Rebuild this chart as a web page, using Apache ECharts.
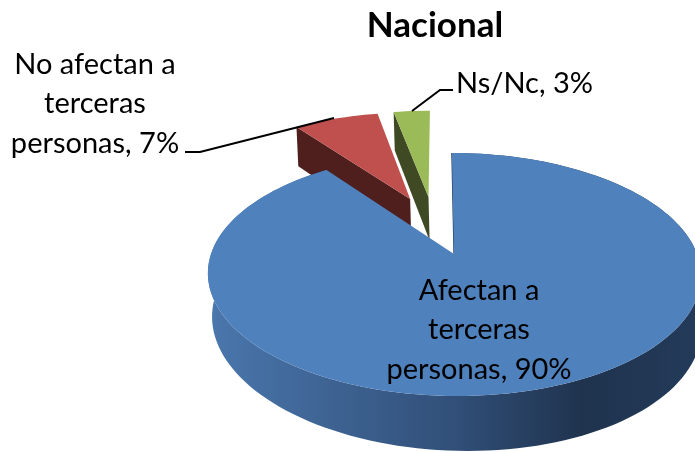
<!DOCTYPE html>
<html>
<head>
<meta charset="utf-8">
<style>html,body{margin:0;padding:0;background:#fff;overflow:hidden}#c{width:695px;height:452px}</style>
<script src="https://cdn.jsdelivr.net/npm/echarts@6/dist/echarts.min.js"></script>
</head>
<body>
<div id="c"></div>
<script>
const titleText = 'Nacional';
const categories = ['Afectan a terceras personas', 'No afectan a terceras personas', 'Ns/Nc'];
const values = [90, 7, 3];
const labelTexts = ['Afectan a\nterceras\npersonas, 90%', 'No afectan a\nterceras\npersonas, 7%', 'Ns/Nc, 3%'];

const topColors = ['#4f81bd', '#c0504d', '#9bbb59'];
const sideColors = ['#24395a', '#4f1f1e', '#3f4a25'];
const explode = 0.27;
const FONT = 'Lato, Carlito, "Open Sans", sans-serif';

// perspective camera for the tilted disc (u = right, v = away from viewer, h = down)
function project(u, v, h) {
  const w = 1 + 0.1687 * v + 0.008 * h;
  const lean = h * (1 + 8 * Math.max(0, -v));
  return [454 + (243 * u - 2.5 * v + lean) / w, (254 - 75.2 * v + 49.3 * h) / w];
}

const total = values.reduce((a, b) => a + b, 0);
let acc = 0;
const rows = values.map((v, i) => {
  const a0 = acc / total * Math.PI * 2;
  acc += v;
  return [i, a0, acc / total * Math.PI * 2];
});
// the largest slice sits at the origin of the camera; the others shift with the explosion
const bis0 = (rows[0][1] + rows[0][2]) / 2;
const O = [-explode * Math.sin(bis0), -explode * Math.cos(bis0)];

function renderItem(params, api) {
  const i = api.value(0), a0 = api.value(1), a1 = api.value(2);
  const mid = (a0 + a1) / 2;
  const cu = O[0] + explode * Math.sin(mid);
  const cv = O[1] + explode * Math.cos(mid);
  const arc = h => {
    const pts = [];
    const n = Math.max(4, Math.ceil((a1 - a0) / (Math.PI / 90)));
    for (let k = 0; k <= n; k++) {
      const a = a0 + (a1 - a0) * k / n;
      pts.push(project(cu + Math.sin(a), cv + Math.cos(a), h));
    }
    return pts;
  };
  const apexT = project(cu, cv, 0), apexB = project(cu, cv, 1);
  const arcT = arc(0), arcB = arc(1);
  const children = [];
  const base = i === 0 ? 10 : 0;
  if (i === 0) {
    children.push({
      type: 'polygon', z2: base + 1,
      shape: { points: arcT.concat(arcB.slice().reverse()) },
      style: { fill: new echarts.graphic.LinearGradient(0, 0, 1, 0, [
        { offset: 0, color: '#4a77ad' },
        { offset: 0.5, color: '#314f78' },
        { offset: 0.76, color: '#1f334e' },
        { offset: 1, color: '#233b5a' }
      ]) }
    });
    children.push({
      type: 'line', z2: base + 1,
      shape: { x1: arcT[0][0], y1: arcT[0][1], x2: apexT[0], y2: apexT[1] },
      style: { stroke: '#24395a', lineWidth: 1.2 }
    });
  } else {
    const endT = arcT[0], endB = arcB[0];
    children.push({
      type: 'polygon', z2: base + 1,
      shape: { points: [endT, apexT, apexB, endB] },
      style: { fill: sideColors[i] }
    });
  }
  children.push({
    type: 'polygon', z2: base + 2,
    shape: { points: [apexT].concat(arcT) },
    style: { fill: topColors[i] }
  });
  return { type: 'group', children };
}

const labelStyle = { fill: '#000', font: '29px ' + FONT, textAlign: 'center', textVerticalAlign: 'middle', lineHeight: 39.5 };
const chart = echarts.init(document.getElementById('c'), null, { renderer: 'canvas' });
chart.setOption({
  animation: false,
  backgroundColor: '#fff',
  title: {
    text: titleText, left: 430, top: 3, textAlign: 'center',
    textStyle: { color: '#000', fontFamily: FONT, fontWeight: 'bold', fontSize: 35 }
  },
  series: [{
    type: 'custom', coordinateSystem: 'none', silent: true, clip: false,
    renderItem,
    data: rows, encode: {}, name: categories.join(' / ')
  }],
  graphic: [
    { type: 'text', z: 20, x: 479, y: 330, style: Object.assign({ text: labelTexts[0] }, labelStyle) },
    { type: 'text', z: 20, x: 95, y: 104, style: Object.assign({ text: labelTexts[1] }, labelStyle) },
    { type: 'text', z: 20, x: 524.5, y: 84, style: Object.assign({ text: labelTexts[2] }, labelStyle) },
    { type: 'polyline', z: 21, shape: { points: [[185, 152], [200, 152], [334, 118]] }, style: { stroke: '#000', lineWidth: 2, fill: null } },
    { type: 'polyline', z: 21, shape: { points: [[412, 111], [440, 90], [453, 90]] }, style: { stroke: '#000', lineWidth: 2, fill: null } }
  ]
});
</script>
</body>
</html>
